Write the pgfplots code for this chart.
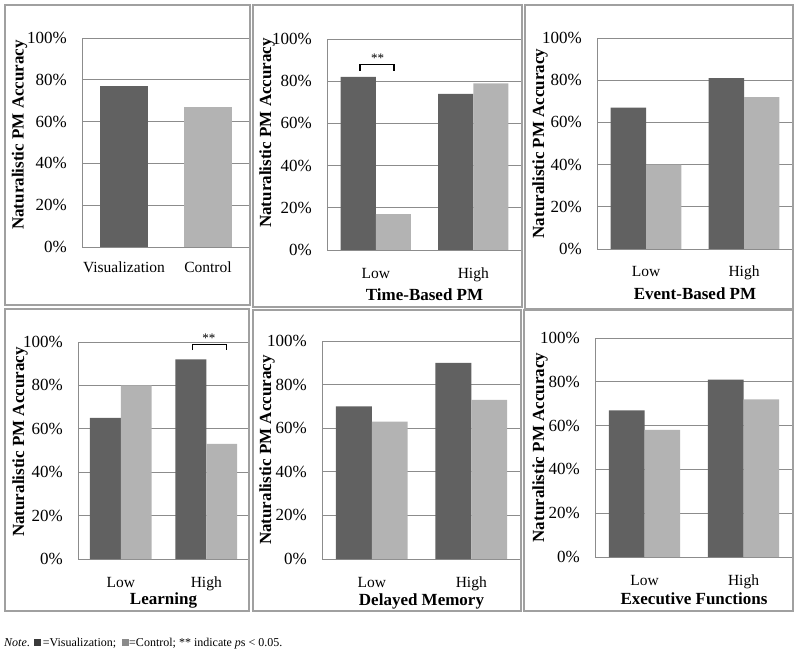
\documentclass[border=0pt]{standalone}
\usepackage{fontspec}
\setmainfont{Liberation Serif}
\usepackage{pgfplots}
\pgfplotsset{compat=1.18}
\definecolor{dk}{HTML}{616161}
\definecolor{lt}{HTML}{B3B3B3}
\definecolor{gr}{HTML}{8C8C8C}
\definecolor{bd}{HTML}{A0A0A0}
\definecolor{nd}{HTML}{3A3A3A}
\definecolor{nl}{HTML}{8A8A8A}

\pgfplotsset{
 panel/.style={
  scale only axis, anchor=south west,
  xmin=-0.5, xmax=1.5, ymin=0, ymax=100,
  xtick={0,1}, ytick={0,20,40,60,80,100},
  yticklabels={0\%,20\%,40\%,60\%,80\%,100\%},
  ymajorgrids, grid style={gr, line width=0.9pt},
  axis line style={gr, line width=0.9pt},
  major tick length=0pt,
  yticklabel style={font=\fontsize{17}{20}\selectfont, anchor=east, inner sep=0pt, xshift=-15pt},
  xticklabel style={font=\fontsize{15.5}{18}\selectfont, anchor=base, inner sep=0pt, yshift=-28pt},
  ylabel={\textbf{Naturalistic PM Accuracy}},
  ylabel style={font=\fontsize{17}{20}\selectfont, anchor=center},
  xlabel style={font=\fontsize{17}{20}\selectfont\bfseries, at={(axis description cs:0.5,0)}, anchor=base, inner sep=0pt},
  clip=false,
 },
 vis/.style={ybar, bar width=0.36, bar shift=-0.18, fill=dk, draw=none},
 ctl/.style={ybar, bar width=0.36, bar shift=0.18, fill=lt, draw=none},
 brk/.style={black, line width=1.6pt, mark=none, sharp plot},
}

\begin{document}
\begin{tikzpicture}
\useasboundingbox (0pt,0pt) rectangle (800pt,654pt);

% Panel 1
\begin{axis}[panel, at={(82pt,407pt)}, width=168pt, height=209pt,
  xticklabels={Visualization,Control},
  xticklabel style={yshift=2pt},
  ylabel style={at={(axis description cs:-0.371,0.536)}}]
\addplot[vis, bar width=0.56, bar shift=0] coordinates {(0,77)};
\addplot[ctl, bar width=0.56, bar shift=0] coordinates {(1,67)};
\end{axis}

% Panel 2
\begin{axis}[panel, at={(327pt,404pt)}, width=195pt, height=211pt,
  xticklabels={Low,High}, xlabel={Time-Based PM},
  xlabel style={yshift=-51pt},
  ylabel style={at={(axis description cs:-0.308,0.555)}}]
\addplot[vis] coordinates {(0,82) (1,74)};
\addplot[ctl] coordinates {(0,17) (1,79)};
\addplot[brk] coordinates {(-0.162,85) (-0.162,88) (0.19,88) (0.19,85)};
\node[font=\fontsize{13}{14}\selectfont, anchor=base, inner sep=0pt] at (axis cs:0.018,89) {**};
\end{axis}

% Panel 3
\begin{axis}[panel, at={(597pt,405pt)}, width=196pt, height=211pt,
  xticklabels={Low,High}, xlabel={Event-Based PM},
  xlabel style={yshift=-51pt},
  ylabel style={at={(axis description cs:-0.291,0.5)}}]
\addplot[vis] coordinates {(0,67) (1,81)};
\addplot[ctl] coordinates {(0,40) (1,72)};
\end{axis}

% Panel 4
\begin{axis}[panel, at={(78pt,95pt)}, width=171pt, height=217pt,
  xticklabels={Low,High}, xlabel={Learning},
  xlabel style={yshift=-45pt},
  ylabel style={at={(axis description cs:-0.339,0.539)}}]
\addplot[vis] coordinates {(0,65) (1,92)};
\addplot[ctl] coordinates {(0,80) (1,53)};
\addplot[brk] coordinates {(0.837,96.3) (0.837,98.9) (1.239,98.9) (1.239,96.3)};
\node[font=\fontsize{13}{14}\selectfont, anchor=base, inner sep=0pt] at (axis cs:1.032,100) {**};
\end{axis}

% Panel 5
\begin{axis}[panel, at={(322pt,95pt)}, width=199pt, height=218pt,
  xticklabels={Low,High}, xlabel={Delayed Memory},
  xlabel style={yshift=-46pt},
  ylabel style={at={(axis description cs:-0.276,0.5)}}]
\addplot[vis] coordinates {(0,70) (1,90)};
\addplot[ctl] coordinates {(0,63) (1,73)};
\end{axis}

% Panel 6
\begin{axis}[panel, at={(595pt,97pt)}, width=198pt, height=219pt,
  xticklabels={Low,High}, xlabel={Executive Functions},
  xlabel style={yshift=-47.5pt},
  ylabel style={at={(axis description cs:-0.278,0.5)}}]
\addplot[vis] coordinates {(0,67) (1,81)};
\addplot[ctl] coordinates {(0,58) (1,72)};
\end{axis}

% panel borders
\begin{scope}[draw=bd, line width=1.5pt]
\draw (5pt,349pt) rectangle (250pt,649pt);
\draw (253pt,347pt) rectangle (522pt,649pt);
\draw (525pt,345pt) rectangle (793pt,649pt);
\draw (5pt,43pt) rectangle (249pt,345pt);
\draw (253pt,43pt) rectangle (521pt,344pt);
\draw (524pt,43pt) rectangle (793pt,344pt);
\end{scope}

\node[anchor=base west, inner sep=0pt, font=\fontsize{12}{14}\selectfont] at (4pt,8pt)
 {\textit{Note}. \textcolor{nd}{\rule{7pt}{7pt}}\,=Visualization;\ \ \textcolor{nl}{\rule{7pt}{7pt}}=Control; ** indicate \textit{p}s < 0.05.};
\end{tikzpicture}
\end{document}
